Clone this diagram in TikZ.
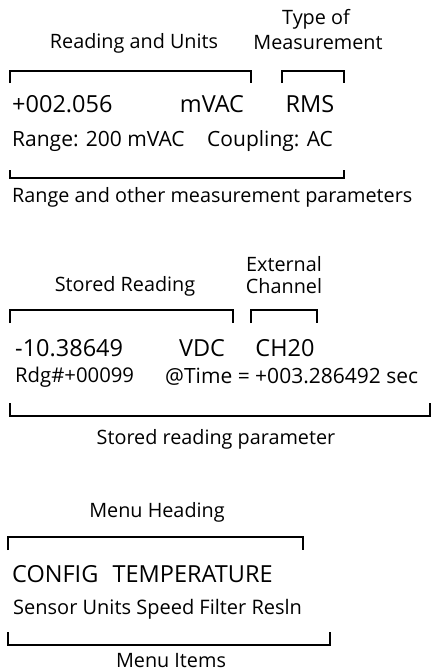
\documentclass[tikz,border=0pt]{standalone}
\usepackage{fontspec}
\setmainfont{Open Sans}
\begin{document}
\begin{tikzpicture}[x=1pt,y=-1pt,
  lbl/.style={inner sep=0pt, font=\fontsize{19.8}{23}\selectfont},
  big/.style={inner sep=0pt, font=\fontsize{23.5}{27}\selectfont},
  small/.style={inner sep=0pt, font=\fontsize{20.5}{24}\selectfont},
  brk/.style={line width=1.8pt, line cap=butt, line join=miter}]
\clip (0,0) rectangle (431,672);
% Block 1
\node[lbl] (typeof) at (316,19) {Type of};
\node[lbl] (meas) at (318,43) {Measurement};
\node[lbl] (readunits) at (134,43) {Reading and Units};
\draw[brk] (10,83) -- (10,71) -- (251,71) -- (251,83);
\draw[brk] (282,83) -- (282,71) -- (344,71) -- (344,83);
\node[big, anchor=west] (rdg) at (12,104) {+002.056};
\node[big] (mvac) at (212,104) {mVAC};
\node[big] (rms) at (310,104) {RMS};
\node[small, anchor=west, font=\fontsize{21}{24}\selectfont] (range) at (12,141) {Range: 200 mVAC};
\node[small, anchor=west, font=\fontsize{21}{24}\selectfont] (coupling) at (207,141) {Coupling: AC};
\draw[brk] (10,170) -- (10,178) -- (344,178) -- (344,170);
\node[lbl, anchor=west] (rangelbl) at (12,197) {Range and other measurement parameters};
% Block 2
\node[lbl] (ext) at (284,264) {External};
\node[lbl] (chan) at (284,286) {Channel};
\node[lbl] (stored) at (125,286) {Stored Reading};
\draw[brk] (10,323) -- (10,310) -- (233,310) -- (233,323);
\draw[brk] (251,323) -- (251,310) -- (317,310) -- (317,323);
\node[big, anchor=west] (srdg) at (15,348) {-10.38649};
\node[big] (vdc) at (202,348) {VDC};
\node[big] (ch) at (285,348) {CH20};
\node[small, anchor=west, font=\fontsize{20.3}{24}\selectfont] (rdgno) at (15,377) {Rdg\#+00099};
\node[small, anchor=west, font=\fontsize{21}{24}\selectfont] (time) at (165,377) {@Time = +003.286492 sec};
\draw[brk] (10,403) -- (10,416) -- (430,416) -- (430,403);
\node[lbl] (storedlbl) at (216,439) {Stored reading parameter};
% Block 3
\node[lbl] (menuhead) at (157,512) {Menu Heading};
\draw[brk] (8,550) -- (8,537) -- (303,537) -- (303,550);
\node[big, anchor=west] (config) at (12,574) {CONFIG\hspace{0.35em} TEMPERATURE};
\node[small, anchor=west, font=\fontsize{20}{24}\selectfont] (items) at (13,609) {Sensor Units Speed Filter Resln};
\draw[brk] (8,632) -- (8,645) -- (330,645) -- (330,632);
\node[lbl, anchor=base] (menuitems) at (171,667.5) {Menu Items};
\end{tikzpicture}
\end{document}
